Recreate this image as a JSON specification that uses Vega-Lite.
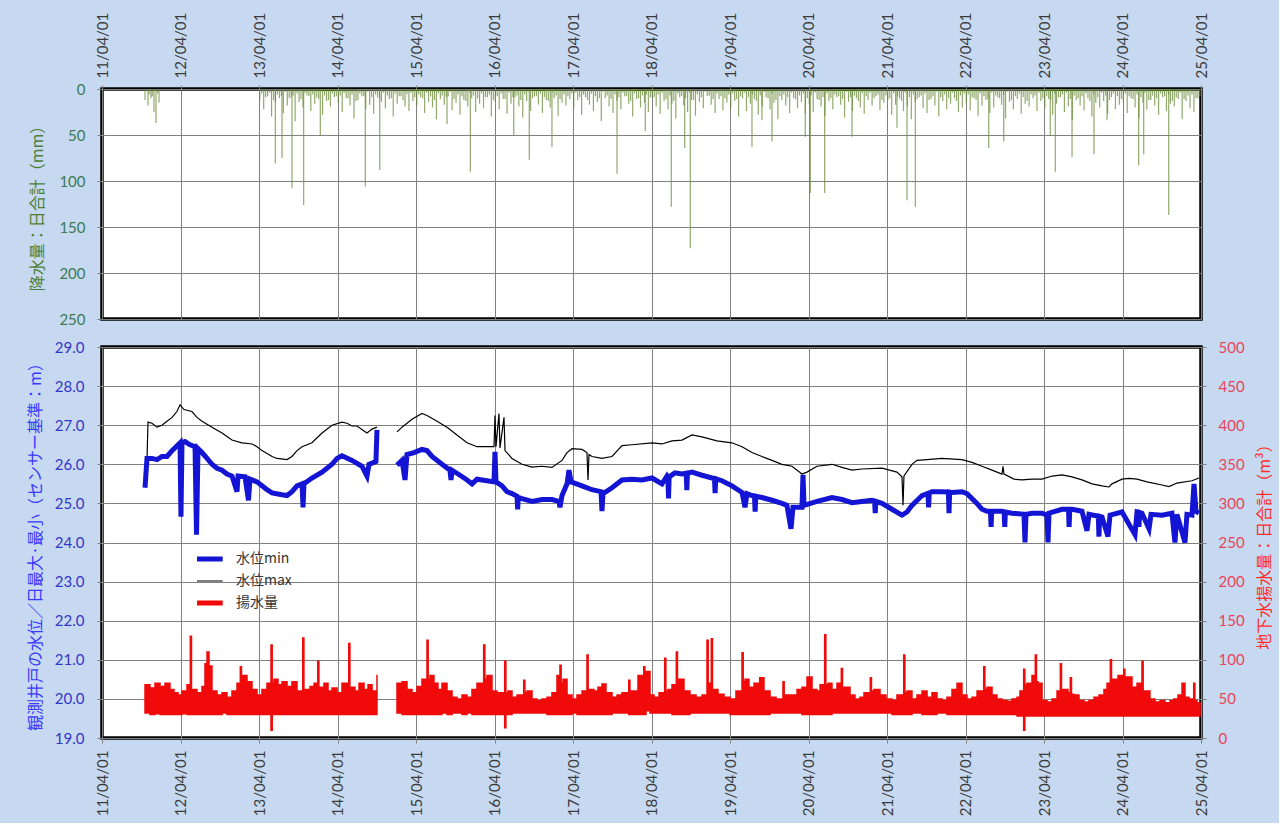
{
"$schema": "https://vega.github.io/schema/vega-lite/v6.json",
"background": "#c6d9f0",
"padding": {"left": 25, "top": 10, "right": 5, "bottom": 5},
"autosize": {"type": "pad"},
"bounds": "flush",
"spacing": 28,
"config": {
 "view": {"stroke": "#000000", "strokeWidth": 3.5, "fill": "#ffffff"},
 "axis": {"gridColor": "#808080", "gridWidth": 1, "gridOpacity": 1, "domain": false, "tickColor": "#808080", "tickSize": 5, "labelFont": "Lato", "labelFontSize": 15, "titleFont": "Noto Sans CJK JP", "titleFontSize": 16, "titleFontWeight": "normal", "labelOverlap": false, "labelFlush": false, "titleBaseline": "middle"},
 "legend": {"labelFont": "Noto Sans CJK JP", "labelFontSize": 14, "labelColor": "#333333"}
},
"datasets": {
 "rain": [
{"t":2011.798,"p":12},{"t":2011.836,"p":18},{"t":2011.874,"p":10},{"t":2011.912,"p":25},{"t":2011.938,"p":37},{"t":2011.976,"p":15},{"t":2011.85,"p":6},{"t":2011.89,"p":8},{"t":2011.96,"p":5},
{"t":2013.26,"p":12},{"t":2013.31,"p":22},{"t":2013.36,"p":8},{"t":2013.41,"p":30},{"t":2013.46,"p":15},{"t":2013.51,"p":10},{"t":2013.56,"p":26},{"t":2013.61,"p":18},{"t":2013.66,"p":9},{"t":2013.71,"p":35},{"t":2013.76,"p":14},{"t":2013.81,"p":20},{"t":2013.86,"p":7},{"t":2013.91,"p":24},{"t":2013.96,"p":16},{"t":2014.01,"p":11},{"t":2014.06,"p":28},{"t":2014.11,"p":13},{"t":2014.16,"p":19},{"t":2014.21,"p":9},
{"t":2014.26,"p":15},{"t":2014.31,"p":25},{"t":2014.36,"p":10},{"t":2014.41,"p":18},{"t":2014.46,"p":32},{"t":2014.51,"p":12},{"t":2014.56,"p":8},{"t":2014.61,"p":22},{"t":2014.66,"p":17},{"t":2014.71,"p":27},{"t":2014.76,"p":9},{"t":2014.81,"p":14},{"t":2014.86,"p":21},{"t":2014.91,"p":11},{"t":2014.96,"p":30},{"t":2015.01,"p":16},{"t":2015.06,"p":8},{"t":2015.11,"p":19},{"t":2015.16,"p":24},{"t":2015.21,"p":13},
{"t":2015.26,"p":18},{"t":2015.31,"p":9},{"t":2015.36,"p":26},{"t":2015.41,"p":14},{"t":2015.46,"p":20},{"t":2015.51,"p":33},{"t":2015.56,"p":11},{"t":2015.61,"p":17},{"t":2015.66,"p":8},{"t":2015.71,"p":23},{"t":2015.76,"p":15},{"t":2015.81,"p":28},{"t":2015.86,"p":12},{"t":2015.91,"p":19},{"t":2015.96,"p":10},{"t":2016.01,"p":25},{"t":2016.06,"p":16},{"t":2016.11,"p":21},{"t":2016.16,"p":9},{"t":2016.21,"p":30},
{"t":2016.26,"p":14},{"t":2016.31,"p":22},{"t":2016.36,"p":11},{"t":2016.41,"p":27},{"t":2016.46,"p":16},{"t":2016.51,"p":9},{"t":2016.56,"p":19},{"t":2016.61,"p":31},{"t":2016.66,"p":13},{"t":2016.71,"p":24},{"t":2016.76,"p":8},{"t":2016.81,"p":17},{"t":2016.86,"p":26},{"t":2016.91,"p":12},{"t":2016.96,"p":20},{"t":2017.01,"p":10},{"t":2017.06,"p":29},{"t":2017.11,"p":15},{"t":2017.16,"p":18},{"t":2017.21,"p":11},
{"t":2017.26,"p":21},{"t":2017.31,"p":12},{"t":2017.36,"p":28},{"t":2017.41,"p":9},{"t":2017.46,"p":17},{"t":2017.51,"p":24},{"t":2017.56,"p":14},{"t":2017.61,"p":35},{"t":2017.66,"p":10},{"t":2017.71,"p":19},{"t":2017.76,"p":26},{"t":2017.81,"p":13},{"t":2017.86,"p":22},{"t":2017.91,"p":8},{"t":2017.96,"p":16},{"t":2018.01,"p":30},{"t":2018.06,"p":11},{"t":2018.11,"p":20},{"t":2018.16,"p":15},{"t":2018.21,"p":25},
{"t":2018.26,"p":10},{"t":2018.31,"p":19},{"t":2018.36,"p":27},{"t":2018.41,"p":13},{"t":2018.46,"p":22},{"t":2018.51,"p":16},{"t":2018.56,"p":32},{"t":2018.61,"p":9},{"t":2018.66,"p":18},{"t":2018.71,"p":25},{"t":2018.76,"p":12},{"t":2018.81,"p":29},{"t":2018.86,"p":14},{"t":2018.91,"p":21},{"t":2018.96,"p":8},{"t":2019.01,"p":17},{"t":2019.06,"p":26},{"t":2019.11,"p":11},{"t":2019.16,"p":23},{"t":2019.21,"p":15},
{"t":2019.26,"p":20},{"t":2019.31,"p":13},{"t":2019.36,"p":30},{"t":2019.41,"p":10},{"t":2019.46,"p":24},{"t":2019.51,"p":16},{"t":2019.56,"p":11},{"t":2019.61,"p":28},{"t":2019.66,"p":19},{"t":2019.71,"p":9},{"t":2019.76,"p":22},{"t":2019.81,"p":15},{"t":2019.86,"p":33},{"t":2019.91,"p":12},{"t":2019.96,"p":18},{"t":2020.01,"p":26},{"t":2020.06,"p":10},{"t":2020.11,"p":21},{"t":2020.16,"p":14},{"t":2020.21,"p":27},
{"t":2020.26,"p":16},{"t":2020.31,"p":25},{"t":2020.36,"p":11},{"t":2020.41,"p":19},{"t":2020.46,"p":29},{"t":2020.51,"p":13},{"t":2020.56,"p":22},{"t":2020.61,"p":9},{"t":2020.66,"p":17},{"t":2020.71,"p":31},{"t":2020.76,"p":14},{"t":2020.81,"p":24},{"t":2020.86,"p":10},{"t":2020.91,"p":20},{"t":2020.96,"p":27},{"t":2021.01,"p":12},{"t":2021.06,"p":18},{"t":2021.11,"p":8},{"t":2021.16,"p":23},{"t":2021.21,"p":15},
{"t":2021.26,"p":12},{"t":2021.31,"p":28},{"t":2021.36,"p":17},{"t":2021.41,"p":10},{"t":2021.46,"p":24},{"t":2021.51,"p":19},{"t":2021.56,"p":33},{"t":2021.61,"p":14},{"t":2021.66,"p":9},{"t":2021.71,"p":21},{"t":2021.76,"p":26},{"t":2021.81,"p":11},{"t":2021.86,"p":18},{"t":2021.91,"p":30},{"t":2021.96,"p":13},{"t":2022.01,"p":22},{"t":2022.06,"p":16},{"t":2022.11,"p":10},{"t":2022.16,"p":25},{"t":2022.21,"p":20},
{"t":2022.26,"p":15},{"t":2022.31,"p":23},{"t":2022.36,"p":10},{"t":2022.41,"p":29},{"t":2022.46,"p":18},{"t":2022.51,"p":12},{"t":2022.56,"p":26},{"t":2022.61,"p":20},{"t":2022.66,"p":9},{"t":2022.71,"p":17},{"t":2022.76,"p":32},{"t":2022.81,"p":14},{"t":2022.86,"p":22},{"t":2022.91,"p":11},{"t":2022.96,"p":27},{"t":2023.01,"p":16},{"t":2023.06,"p":19},{"t":2023.11,"p":10},{"t":2023.16,"p":24},{"t":2023.21,"p":13},
{"t":2023.26,"p":21},{"t":2023.31,"p":11},{"t":2023.36,"p":28},{"t":2023.41,"p":16},{"t":2023.46,"p":9},{"t":2023.51,"p":25},{"t":2023.56,"p":19},{"t":2023.61,"p":34},{"t":2023.66,"p":12},{"t":2023.71,"p":18},{"t":2023.76,"p":23},{"t":2023.81,"p":10},{"t":2023.86,"p":30},{"t":2023.91,"p":15},{"t":2023.96,"p":20},{"t":2024.01,"p":13},{"t":2024.06,"p":27},{"t":2024.11,"p":9},{"t":2024.16,"p":22},{"t":2024.21,"p":17},
{"t":2024.26,"p":14},{"t":2024.31,"p":26},{"t":2024.36,"p":10},{"t":2024.41,"p":20},{"t":2024.46,"p":31},{"t":2024.51,"p":15},{"t":2024.56,"p":22},{"t":2024.61,"p":12},{"t":2024.66,"p":18},{"t":2024.71,"p":28},{"t":2024.76,"p":9},{"t":2024.81,"p":24},{"t":2024.86,"p":16},{"t":2024.91,"p":19},{"t":2024.96,"p":11},{"t":2025.01,"p":33},{"t":2025.06,"p":13},{"t":2025.11,"p":21},{"t":2025.16,"p":25},{"t":2025.21,"p":10},
{"t":2013.285,"p":5},{"t":2013.335,"p":9},{"t":2013.385,"p":4},{"t":2013.435,"p":12},{"t":2013.485,"p":6},{"t":2013.535,"p":8},{"t":2013.585,"p":3},{"t":2013.635,"p":10},{"t":2013.685,"p":7},{"t":2013.735,"p":5},{"t":2013.785,"p":11},{"t":2013.835,"p":4},{"t":2013.885,"p":8},{"t":2013.935,"p":6},{"t":2013.985,"p":9},{"t":2014.035,"p":3},{"t":2014.085,"p":7},{"t":2014.135,"p":12},{"t":2014.185,"p":5},{"t":2014.235,"p":8},
{"t":2014.285,"p":7},{"t":2014.335,"p":4},{"t":2014.385,"p":10},{"t":2014.435,"p":6},{"t":2014.485,"p":13},{"t":2014.535,"p":5},{"t":2014.585,"p":8},{"t":2014.635,"p":3},{"t":2014.685,"p":9},{"t":2014.735,"p":6},{"t":2014.785,"p":11},{"t":2014.835,"p":4},{"t":2014.885,"p":7},{"t":2014.935,"p":10},{"t":2014.985,"p":5},{"t":2015.035,"p":8},{"t":2015.085,"p":12},{"t":2015.135,"p":6},{"t":2015.185,"p":4},{"t":2015.235,"p":9},
{"t":2015.285,"p":6},{"t":2015.335,"p":10},{"t":2015.385,"p":4},{"t":2015.435,"p":8},{"t":2015.485,"p":12},{"t":2015.535,"p":5},{"t":2015.585,"p":7},{"t":2015.635,"p":9},{"t":2015.685,"p":3},{"t":2015.735,"p":11},{"t":2015.785,"p":6},{"t":2015.835,"p":8},{"t":2015.885,"p":13},{"t":2015.935,"p":4},{"t":2015.985,"p":7},{"t":2016.035,"p":10},{"t":2016.085,"p":5},{"t":2016.135,"p":9},{"t":2016.185,"p":6},{"t":2016.235,"p":12},
{"t":2016.285,"p":8},{"t":2016.335,"p":5},{"t":2016.385,"p":11},{"t":2016.435,"p":4},{"t":2016.485,"p":9},{"t":2016.535,"p":7},{"t":2016.585,"p":12},{"t":2016.635,"p":6},{"t":2016.685,"p":3},{"t":2016.735,"p":10},{"t":2016.785,"p":8},{"t":2016.835,"p":5},{"t":2016.885,"p":9},{"t":2016.935,"p":13},{"t":2016.985,"p":4},{"t":2017.035,"p":7},{"t":2017.085,"p":11},{"t":2017.135,"p":6},{"t":2017.185,"p":8},{"t":2017.235,"p":5},
{"t":2017.285,"p":4},{"t":2017.335,"p":9},{"t":2017.385,"p":6},{"t":2017.435,"p":12},{"t":2017.485,"p":5},{"t":2017.535,"p":8},{"t":2017.585,"p":10},{"t":2017.635,"p":3},{"t":2017.685,"p":7},{"t":2017.735,"p":11},{"t":2017.785,"p":6},{"t":2017.835,"p":9},{"t":2017.885,"p":4},{"t":2017.935,"p":8},{"t":2017.985,"p":13},{"t":2018.035,"p":5},{"t":2018.085,"p":10},{"t":2018.135,"p":7},{"t":2018.185,"p":6},{"t":2018.235,"p":9},
{"t":2018.285,"p":9},{"t":2018.335,"p":6},{"t":2018.385,"p":4},{"t":2018.435,"p":11},{"t":2018.485,"p":7},{"t":2018.535,"p":13},{"t":2018.585,"p":5},{"t":2018.635,"p":8},{"t":2018.685,"p":10},{"t":2018.735,"p":4},{"t":2018.785,"p":12},{"t":2018.835,"p":6},{"t":2018.885,"p":9},{"t":2018.935,"p":3},{"t":2018.985,"p":7},{"t":2019.035,"p":11},{"t":2019.085,"p":5},{"t":2019.135,"p":8},{"t":2019.185,"p":10},{"t":2019.235,"p":6},
{"t":2019.285,"p":5},{"t":2019.335,"p":11},{"t":2019.385,"p":8},{"t":2019.435,"p":4},{"t":2019.485,"p":9},{"t":2019.535,"p":6},{"t":2019.585,"p":13},{"t":2019.635,"p":7},{"t":2019.685,"p":3},{"t":2019.735,"p":10},{"t":2019.785,"p":5},{"t":2019.835,"p":12},{"t":2019.885,"p":8},{"t":2019.935,"p":6},{"t":2019.985,"p":9},{"t":2020.035,"p":4},{"t":2020.085,"p":11},{"t":2020.135,"p":7},{"t":2020.185,"p":5},{"t":2020.235,"p":10},
{"t":2020.285,"p":7},{"t":2020.335,"p":4},{"t":2020.385,"p":12},{"t":2020.435,"p":9},{"t":2020.485,"p":5},{"t":2020.535,"p":10},{"t":2020.585,"p":6},{"t":2020.635,"p":8},{"t":2020.685,"p":11},{"t":2020.735,"p":3},{"t":2020.785,"p":9},{"t":2020.835,"p":7},{"t":2020.885,"p":13},{"t":2020.935,"p":5},{"t":2020.985,"p":8},{"t":2021.035,"p":4},{"t":2021.085,"p":10},{"t":2021.135,"p":6},{"t":2021.185,"p":12},{"t":2021.235,"p":7},
{"t":2021.285,"p":10},{"t":2021.335,"p":5},{"t":2021.385,"p":8},{"t":2021.435,"p":13},{"t":2021.485,"p":4},{"t":2021.535,"p":9},{"t":2021.585,"p":6},{"t":2021.635,"p":11},{"t":2021.685,"p":7},{"t":2021.735,"p":5},{"t":2021.785,"p":12},{"t":2021.835,"p":8},{"t":2021.885,"p":3},{"t":2021.935,"p":9},{"t":2021.985,"p":6},{"t":2022.035,"p":10},{"t":2022.085,"p":4},{"t":2022.135,"p":13},{"t":2022.185,"p":7},{"t":2022.235,"p":5},
{"t":2022.285,"p":6},{"t":2022.335,"p":9},{"t":2022.385,"p":12},{"t":2022.435,"p":5},{"t":2022.485,"p":8},{"t":2022.535,"p":11},{"t":2022.585,"p":4},{"t":2022.635,"p":7},{"t":2022.685,"p":10},{"t":2022.735,"p":6},{"t":2022.785,"p":3},{"t":2022.835,"p":12},{"t":2022.885,"p":8},{"t":2022.935,"p":5},{"t":2022.985,"p":9},{"t":2023.035,"p":13},{"t":2023.085,"p":6},{"t":2023.135,"p":7},{"t":2023.185,"p":4},{"t":2023.235,"p":10},
{"t":2023.285,"p":8},{"t":2023.335,"p":12},{"t":2023.385,"p":5},{"t":2023.435,"p":9},{"t":2023.485,"p":6},{"t":2023.535,"p":4},{"t":2023.585,"p":11},{"t":2023.635,"p":7},{"t":2023.685,"p":10},{"t":2023.735,"p":8},{"t":2023.785,"p":5},{"t":2023.835,"p":13},{"t":2023.885,"p":6},{"t":2023.935,"p":9},{"t":2023.985,"p":4},{"t":2024.035,"p":7},{"t":2024.085,"p":12},{"t":2024.135,"p":5},{"t":2024.185,"p":8},{"t":2024.235,"p":11},
{"t":2024.285,"p":5},{"t":2024.335,"p":8},{"t":2024.385,"p":11},{"t":2024.435,"p":6},{"t":2024.485,"p":9},{"t":2024.535,"p":4},{"t":2024.585,"p":12},{"t":2024.635,"p":7},{"t":2024.685,"p":10},{"t":2024.735,"p":5},{"t":2024.785,"p":8},{"t":2024.835,"p":6},{"t":2024.885,"p":13},{"t":2024.935,"p":9},{"t":2024.985,"p":4},{"t":2025.035,"p":11},{"t":2025.085,"p":7},{"t":2025.135,"p":6},{"t":2025.185,"p":10},{"t":2025.235,"p":8},
{"t":2013.458,"p":81},{"t":2013.543,"p":75},{"t":2013.670,"p":108},{"t":2013.819,"p":126},{"t":2014.031,"p":50},{"t":2014.604,"p":106},{"t":2014.788,"p":88},{"t":2015.645,"p":38},{"t":2015.942,"p":90},{"t":2016.495,"p":50},{"t":2016.693,"p":77},{"t":2016.982,"p":63},{"t":2017.811,"p":92},{"t":2018.171,"p":46},{"t":2018.502,"p":128},{"t":2018.673,"p":64},{"t":2018.744,"p":173},{"t":2019.530,"p":63},{"t":2019.657,"p":34},{"t":2019.785,"p":57},{"t":2020.209,"p":52},{"t":2020.273,"p":113},{"t":2020.456,"p":113},{"t":2020.804,"p":52},{"t":2021.377,"p":42},{"t":2021.505,"p":121},{"t":2021.611,"p":128},{"t":2022.546,"p":64},{"t":2022.737,"p":57},{"t":2023.330,"p":50},{"t":2023.394,"p":90},{"t":2023.607,"p":74},{"t":2023.887,"p":71},{"t":2024.053,"p":34},{"t":2024.456,"p":83},{"t":2024.520,"p":71},{"t":2024.839,"p":137}
 ],
 "mn": [
{"t":2011.798,"水位min":25.4},{"t":2011.823,"水位min":26.15},{"t":2011.887,"水位min":26.15},{"t":2011.951,"水位min":26.12},{"t":2012.014,"水位min":26.2},{"t":2012.078,"水位min":26.2},{"t":2012.142,"水位min":26.35},{"t":2012.193,"水位min":26.45},{"t":2012.244,"水位min":26.55},{"t":2012.256,"水位min":24.66},{"t":2012.269,"水位min":26.55},{"t":2012.307,"水位min":26.58},{"t":2012.371,"水位min":26.5},{"t":2012.435,"水位min":26.45},{"t":2012.454,"水位min":24.2},{"t":2012.473,"水位min":26.4},{"t":2012.524,"水位min":26.3},{"t":2012.588,"水位min":26.15},{"t":2012.651,"水位min":26.0},{"t":2012.715,"水位min":25.9},{"t":2012.779,"水位min":25.85},{"t":2012.842,"水位min":25.75},{"t":2012.906,"水位min":25.7},{"t":2012.970,"水位min":25.3},{"t":2012.983,"水位min":25.7},{"t":2013.072,"水位min":25.68},{"t":2013.116,"水位min":25.08},{"t":2013.135,"水位min":25.62},{"t":2013.225,"水位min":25.55},{"t":2013.288,"水位min":25.45},{"t":2013.352,"水位min":25.35},{"t":2013.416,"水位min":25.27},{"t":2013.543,"水位min":25.22},{"t":2013.607,"水位min":25.2},{"t":2013.670,"水位min":25.3},{"t":2013.734,"水位min":25.45},{"t":2013.798,"水位min":25.5},{"t":2013.811,"水位min":24.9},{"t":2013.823,"水位min":25.5},{"t":2013.925,"水位min":25.65},{"t":2014.053,"水位min":25.8},{"t":2014.180,"水位min":26.0},{"t":2014.244,"水位min":26.15},{"t":2014.307,"水位min":26.22},{"t":2014.435,"水位min":26.1},{"t":2014.562,"水位min":25.95},{"t":2014.626,"水位min":25.7},{"t":2014.651,"水位min":26.0},{"t":2014.740,"水位min":26.07},{"t":2014.753,"水位min":26.88},
{"t":2014.85,"水位min":null},
{"t":2015.008,"水位min":25.98},{"t":2015.072,"水位min":26.1},{"t":2015.110,"水位min":25.6},{"t":2015.135,"水位min":26.25},{"t":2015.225,"水位min":26.3},{"t":2015.326,"水位min":26.38},{"t":2015.390,"水位min":26.35},{"t":2015.454,"水位min":26.2},{"t":2015.581,"水位min":26.0},{"t":2015.683,"水位min":25.85},{"t":2015.696,"水位min":25.6},{"t":2015.709,"水位min":25.85},{"t":2015.811,"水位min":25.72},{"t":2015.900,"水位min":25.6},{"t":2015.964,"水位min":25.5},{"t":2016.027,"水位min":25.62},{"t":2016.154,"水位min":25.58},{"t":2016.244,"水位min":25.55},{"t":2016.256,"水位min":26.32},{"t":2016.269,"水位min":25.55},{"t":2016.346,"水位min":25.45},{"t":2016.409,"水位min":25.3},{"t":2016.473,"水位min":25.25},{"t":2016.600,"水位min":25.12},{"t":2016.728,"水位min":25.05},{"t":2016.855,"水位min":25.1},{"t":2016.982,"水位min":25.1},{"t":2017.072,"水位min":25.05},{"t":2017.084,"水位min":24.9},{"t":2017.110,"水位min":25.2},{"t":2017.174,"水位min":25.5},{"t":2017.199,"水位min":25.85},{"t":2017.225,"水位min":25.55},{"t":2017.365,"水位min":25.45},{"t":2017.492,"水位min":25.35},{"t":2017.607,"水位min":25.3},{"t":2017.619,"水位min":24.8},{"t":2017.632,"水位min":25.25},{"t":2017.747,"水位min":25.4},{"t":2017.874,"水位min":25.6},{"t":2018.001,"水位min":25.62},{"t":2018.129,"水位min":25.6},{"t":2018.256,"水位min":25.65},{"t":2018.384,"水位min":25.5},{"t":2018.447,"水位min":25.7},{"t":2018.549,"水位min":25.78},{"t":2018.638,"水位min":25.75},{"t":2018.766,"水位min":25.8},{"t":2018.893,"水位min":25.72},{"t":2019.021,"水位min":25.65},{"t":2019.148,"水位min":25.58},{"t":2019.275,"水位min":25.45},{"t":2019.403,"水位min":25.28},{"t":2019.441,"水位min":24.9},{"t":2019.466,"水位min":25.25},{"t":2019.530,"水位min":25.2},{"t":2019.657,"水位min":25.15},{"t":2019.785,"水位min":25.08},{"t":2019.912,"水位min":25.0},{"t":2019.975,"水位min":24.95},{"t":2020.027,"水位min":24.35},{"t":2020.052,"水位min":24.9},{"t":2020.167,"水位min":24.9},{"t":2020.180,"水位min":25.73},{"t":2020.193,"水位min":24.95},{"t":2020.358,"水位min":25.05},{"t":2020.549,"水位min":25.15},{"t":2020.677,"水位min":25.1},{"t":2020.804,"水位min":25.02},{"t":2020.931,"水位min":25.05},{"t":2021.059,"水位min":25.08},{"t":2021.186,"水位min":25.0},{"t":2021.313,"水位min":24.85},{"t":2021.441,"水位min":24.7},{"t":2021.505,"水位min":24.78},{"t":2021.568,"水位min":24.95},{"t":2021.696,"水位min":25.2},{"t":2021.823,"水位min":25.3},{"t":2021.950,"水位min":25.3},{"t":2022.078,"水位min":25.28},{"t":2022.205,"水位min":25.3},{"t":2022.269,"水位min":25.25},{"t":2022.396,"水位min":25.0},{"t":2022.460,"水位min":24.85},{"t":2022.524,"水位min":24.8},{"t":2022.587,"水位min":24.8},{"t":2022.715,"水位min":24.8},{"t":2022.842,"水位min":24.75},{"t":2022.995,"水位min":24.72},{"t":2023.008,"水位min":24.0},{"t":2023.021,"水位min":24.72},{"t":2023.097,"水位min":24.75},{"t":2023.225,"水位min":24.75},{"t":2023.288,"水位min":24.7},{"t":2023.301,"水位min":24.0},{"t":2023.314,"水位min":24.75},{"t":2023.479,"水位min":24.85},{"t":2023.607,"水位min":24.85},{"t":2023.734,"水位min":24.8},{"t":2023.798,"水位min":24.3},{"t":2023.823,"水位min":24.72},{"t":2023.989,"水位min":24.65},{"t":2024.065,"水位min":24.15},{"t":2024.091,"水位min":24.7},{"t":2024.244,"水位min":24.78},{"t":2024.409,"水位min":24.2},{"t":2024.435,"水位min":24.78},{"t":2024.498,"水位min":24.75},{"t":2024.588,"水位min":24.35},{"t":2024.613,"水位min":24.72},{"t":2024.753,"水位min":24.7},{"t":2024.880,"水位min":24.75},{"t":2024.918,"水位min":24.0},{"t":2024.943,"水位min":24.72},{"t":2025.046,"水位min":24.0},{"t":2025.071,"水位min":24.72},{"t":2025.135,"水位min":24.7},{"t":2025.161,"水位min":25.5},{"t":2025.186,"水位min":24.8},{"t":2025.224,"水位min":24.75},
{"t":2016.537,"水位min":25.18},{"t":2016.545,"水位min":24.85},{"t":2016.553,"水位min":25.16},
{"t":2018.459,"水位min":25.66},{"t":2018.467,"水位min":25.13},{"t":2018.475,"水位min":25.68},
{"t":2018.692,"水位min":25.77},{"t":2018.700,"水位min":25.34},{"t":2018.708,"水位min":25.77},
{"t":2019.052,"水位min":25.64},{"t":2019.060,"水位min":25.26},{"t":2019.068,"水位min":25.63},
{"t":2019.562,"水位min":25.19},{"t":2019.570,"水位min":24.79},{"t":2019.578,"水位min":25.18},
{"t":2021.092,"水位min":25.06},{"t":2021.100,"水位min":24.75},{"t":2021.108,"水位min":25.05},
{"t":2021.772,"水位min":25.26},{"t":2021.780,"水位min":24.9},{"t":2021.788,"水位min":25.27},
{"t":2022.032,"水位min":25.29},{"t":2022.040,"水位min":24.75},{"t":2022.048,"水位min":25.29},
{"t":2022.568,"水位min":24.8},{"t":2022.576,"水位min":24.4},{"t":2022.584,"水位min":24.8},
{"t":2022.742,"水位min":24.78},{"t":2022.750,"水位min":24.4},{"t":2022.758,"水位min":24.78},
{"t":2023.562,"水位min":24.85},{"t":2023.570,"水位min":24.4},{"t":2023.578,"水位min":24.85},
{"t":2023.942,"水位min":24.67},{"t":2023.950,"水位min":24.15},{"t":2023.958,"水位min":24.67},
{"t":2024.452,"水位min":24.77},{"t":2024.460,"水位min":24.4},{"t":2024.468,"水位min":24.77}
 ],
 "mx": [
{"t":2011.823,"水位max":26.1},{"t":2011.836,"水位max":27.08},{"t":2011.887,"水位max":27.05},{"t":2011.951,"水位max":26.95},{"t":2012.014,"水位max":27.0},{"t":2012.078,"水位max":27.1},{"t":2012.142,"水位max":27.2},{"t":2012.205,"水位max":27.35},{"t":2012.244,"水位max":27.52},{"t":2012.295,"水位max":27.4},{"t":2012.396,"水位max":27.35},{"t":2012.460,"水位max":27.2},{"t":2012.524,"水位max":27.1},{"t":2012.651,"水位max":26.95},{"t":2012.779,"水位max":26.8},{"t":2012.906,"水位max":26.62},{"t":2013.033,"水位max":26.55},{"t":2013.161,"水位max":26.52},{"t":2013.225,"水位max":26.45},{"t":2013.288,"水位max":26.35},{"t":2013.416,"水位max":26.2},{"t":2013.479,"水位max":26.15},{"t":2013.607,"水位max":26.12},{"t":2013.670,"水位max":26.2},{"t":2013.734,"水位max":26.35},{"t":2013.798,"水位max":26.45},{"t":2013.925,"水位max":26.55},{"t":2014.053,"水位max":26.8},{"t":2014.180,"水位max":27.0},{"t":2014.307,"水位max":27.08},{"t":2014.371,"水位max":27.05},{"t":2014.435,"水位max":26.98},{"t":2014.498,"水位max":26.98},{"t":2014.588,"水位max":26.85},{"t":2014.626,"水位max":26.8},{"t":2014.689,"水位max":26.9},{"t":2014.753,"水位max":26.95},
{"t":2014.85,"水位max":null},
{"t":2015.008,"水位max":26.83},{"t":2015.072,"水位max":26.95},{"t":2015.199,"水位max":27.15},{"t":2015.326,"水位max":27.3},{"t":2015.390,"水位max":27.25},{"t":2015.518,"水位max":27.1},{"t":2015.645,"水位max":26.95},{"t":2015.772,"水位max":26.75},{"t":2015.900,"水位max":26.55},{"t":2016.027,"水位max":26.45},{"t":2016.154,"水位max":26.45},{"t":2016.244,"水位max":26.45},{"t":2016.256,"水位max":27.25},{"t":2016.269,"水位max":26.45},{"t":2016.307,"水位max":27.3},{"t":2016.320,"水位max":26.42},{"t":2016.371,"水位max":27.2},{"t":2016.384,"水位max":26.35},{"t":2016.473,"水位max":26.15},{"t":2016.600,"水位max":26.0},{"t":2016.728,"水位max":25.93},{"t":2016.855,"水位max":25.95},{"t":2016.982,"水位max":25.92},{"t":2017.110,"水位max":26.1},{"t":2017.174,"水位max":26.3},{"t":2017.237,"水位max":26.4},{"t":2017.365,"水位max":26.38},{"t":2017.428,"水位max":26.3},{"t":2017.441,"水位max":25.6},{"t":2017.454,"水位max":26.25},{"t":2017.492,"水位max":26.2},{"t":2017.619,"水位max":26.15},{"t":2017.747,"水位max":26.2},{"t":2017.874,"水位max":26.48},{"t":2018.001,"水位max":26.5},{"t":2018.256,"水位max":26.55},{"t":2018.384,"水位max":26.52},{"t":2018.511,"水位max":26.6},{"t":2018.638,"水位max":26.62},{"t":2018.766,"水位max":26.75},{"t":2018.893,"水位max":26.7},{"t":2019.084,"水位max":26.6},{"t":2019.275,"水位max":26.55},{"t":2019.403,"水位max":26.45},{"t":2019.530,"水位max":26.3},{"t":2019.657,"水位max":26.2},{"t":2019.785,"水位max":26.1},{"t":2019.912,"水位max":26.0},{"t":2020.040,"水位max":25.95},{"t":2020.167,"水位max":25.75},{"t":2020.231,"水位max":25.8},{"t":2020.358,"水位max":25.95},{"t":2020.549,"水位max":26.0},{"t":2020.677,"水位max":25.92},{"t":2020.804,"水位max":25.85},{"t":2020.931,"水位max":25.88},{"t":2021.186,"水位max":25.9},{"t":2021.377,"水位max":25.8},{"t":2021.441,"水位max":25.68},{"t":2021.454,"水位max":24.95},{"t":2021.466,"水位max":25.7},{"t":2021.568,"水位max":26.0},{"t":2021.632,"水位max":26.1},{"t":2021.759,"水位max":26.12},{"t":2021.950,"水位max":26.15},{"t":2022.205,"水位max":26.12},{"t":2022.333,"水位max":26.05},{"t":2022.460,"水位max":25.95},{"t":2022.587,"水位max":25.85},{"t":2022.715,"水位max":25.75},{"t":2022.728,"水位max":25.95},{"t":2022.740,"水位max":25.75},{"t":2022.868,"水位max":25.62},{"t":2022.970,"水位max":25.6},{"t":2023.097,"水位max":25.62},{"t":2023.225,"水位max":25.62},{"t":2023.352,"水位max":25.7},{"t":2023.479,"水位max":25.73},{"t":2023.607,"水位max":25.68},{"t":2023.734,"水位max":25.6},{"t":2023.862,"水位max":25.5},{"t":2023.989,"水位max":25.45},{"t":2024.078,"水位max":25.42},{"t":2024.116,"水位max":25.5},{"t":2024.244,"水位max":25.62},{"t":2024.333,"水位max":25.64},{"t":2024.435,"水位max":25.62},{"t":2024.562,"水位max":25.55},{"t":2024.753,"水位max":25.47},{"t":2024.842,"水位max":25.43},{"t":2024.944,"水位max":25.52},{"t":2025.135,"水位max":25.58},{"t":2025.224,"水位max":25.65}
 ],
 "pm": [
{"t":2011.798,"揚水量":68,"lo":32},{"t":2011.861,"揚水量":64,"lo":30},{"t":2011.925,"揚水量":70,"lo":31},{"t":2011.989,"揚水量":66,"lo":30},{"t":2012.053,"揚水量":70,"lo":30},{"t":2012.116,"揚水量":62,"lo":30},{"t":2012.167,"揚水量":58,"lo":30},{"t":2012.218,"揚水量":55,"lo":30},{"t":2012.269,"揚水量":60,"lo":31},{"t":2012.333,"揚水量":68,"lo":30},{"t":2012.375,"揚水量":130,"lo":30},{"t":2012.409,"揚水量":62,"lo":30},{"t":2012.460,"揚水量":58,"lo":30},{"t":2012.524,"揚水量":66,"lo":30},{"t":2012.562,"揚水量":95,"lo":30},{"t":2012.588,"揚水量":110,"lo":30},{"t":2012.613,"揚水量":92,"lo":30},{"t":2012.651,"揚水量":60,"lo":30},{"t":2012.715,"揚水量":55,"lo":30},{"t":2012.779,"揚水量":58,"lo":32},{"t":2012.842,"揚水量":52,"lo":30},{"t":2012.906,"揚水量":60,"lo":30},{"t":2012.970,"揚水量":70,"lo":30},{"t":2013.012,"揚水量":91,"lo":31},{"t":2013.046,"揚水量":80,"lo":30},{"t":2013.097,"揚水量":72,"lo":30},{"t":2013.161,"揚水量":62,"lo":30},{"t":2013.225,"揚水量":55,"lo":30},{"t":2013.288,"揚水量":62,"lo":30},{"t":2013.352,"揚水量":70,"lo":30},{"t":2013.403,"揚水量":119,"lo":10},{"t":2013.441,"揚水量":75,"lo":30},{"t":2013.492,"揚水量":68,"lo":30},{"t":2013.543,"揚水量":72,"lo":30},{"t":2013.607,"揚水量":66,"lo":30},{"t":2013.670,"揚水量":72,"lo":30},{"t":2013.734,"揚水量":60,"lo":30},{"t":2013.807,"揚水量":128,"lo":30},{"t":2013.836,"揚水量":62,"lo":30},{"t":2013.900,"揚水量":66,"lo":30},{"t":2013.951,"揚水量":70,"lo":30},{"t":2013.998,"揚水量":98,"lo":30},{"t":2014.027,"揚水量":65,"lo":30},{"t":2014.078,"揚水量":70,"lo":30},{"t":2014.129,"揚水量":60,"lo":30},{"t":2014.180,"揚水量":64,"lo":30},{"t":2014.244,"揚水量":58,"lo":30},{"t":2014.307,"揚水量":70,"lo":30},{"t":2014.393,"揚水量":121,"lo":30},{"t":2014.422,"揚水量":65,"lo":30},{"t":2014.473,"揚水量":60,"lo":30},{"t":2014.524,"揚水量":70,"lo":30},{"t":2014.588,"揚水量":62,"lo":30},{"t":2014.639,"揚水量":68,"lo":30},{"t":2014.690,"揚水量":60,"lo":30},{"t":2014.753,"揚水量":81,"lo":30},
{"t":2014.85,"揚水量":null,"lo":null},
{"t":2015.008,"揚水量":70,"lo":32},{"t":2015.072,"揚水量":72,"lo":30},{"t":2015.135,"揚水量":62,"lo":30},{"t":2015.199,"揚水量":58,"lo":30},{"t":2015.263,"揚水量":66,"lo":30},{"t":2015.326,"揚水量":75,"lo":30},{"t":2015.390,"揚水量":125,"lo":30},{"t":2015.428,"揚水量":80,"lo":30},{"t":2015.479,"揚水量":70,"lo":30},{"t":2015.530,"揚水量":62,"lo":30},{"t":2015.581,"揚水量":70,"lo":32},{"t":2015.645,"揚水量":60,"lo":30},{"t":2015.709,"揚水量":52,"lo":32},{"t":2015.772,"揚水量":50,"lo":32},{"t":2015.836,"揚水量":55,"lo":30},{"t":2015.900,"揚水量":52,"lo":32},{"t":2015.963,"揚水量":62,"lo":30},{"t":2016.027,"揚水量":70,"lo":30},{"t":2016.112,"揚水量":119,"lo":30},{"t":2016.154,"揚水量":80,"lo":30},{"t":2016.218,"揚水量":60,"lo":30},{"t":2016.282,"揚水量":58,"lo":30},{"t":2016.380,"揚水量":98,"lo":13},{"t":2016.422,"揚水量":60,"lo":30},{"t":2016.473,"揚水量":52,"lo":32},{"t":2016.537,"揚水量":55,"lo":32},{"t":2016.622,"揚水量":74,"lo":32},{"t":2016.664,"揚水量":60,"lo":32},{"t":2016.728,"揚水量":50,"lo":32},{"t":2016.791,"揚水量":48,"lo":32},{"t":2016.855,"揚水量":50,"lo":32},{"t":2016.919,"揚水量":52,"lo":30},{"t":2016.982,"揚水量":58,"lo":30},{"t":2017.046,"揚水量":80,"lo":30},{"t":2017.084,"揚水量":93,"lo":30},{"t":2017.123,"揚水量":75,"lo":30},{"t":2017.174,"揚水量":55,"lo":30},{"t":2017.237,"揚水量":50,"lo":32},{"t":2017.301,"揚水量":55,"lo":30},{"t":2017.365,"揚水量":60,"lo":30},{"t":2017.428,"揚水量":106,"lo":30},{"t":2017.467,"揚水量":62,"lo":30},{"t":2017.518,"揚水量":60,"lo":30},{"t":2017.568,"揚水量":65,"lo":30},{"t":2017.619,"揚水量":69,"lo":30},{"t":2017.670,"揚水量":58,"lo":30},{"t":2017.747,"揚水量":52,"lo":32},{"t":2017.811,"揚水量":55,"lo":32},{"t":2017.874,"揚水量":58,"lo":32},{"t":2017.960,"揚水量":74,"lo":30},{"t":2018.014,"揚水量":60,"lo":30},{"t":2018.078,"揚水量":80,"lo":30},{"t":2018.151,"揚水量":91,"lo":30},{"t":2018.180,"揚水量":85,"lo":35},{"t":2018.231,"揚水量":55,"lo":32},{"t":2018.282,"揚水量":52,"lo":32},{"t":2018.346,"揚水量":58,"lo":32},{"t":2018.418,"揚水量":102,"lo":32},{"t":2018.460,"揚水量":62,"lo":32},{"t":2018.511,"揚水量":68,"lo":30},{"t":2018.566,"揚水量":110,"lo":30},{"t":2018.600,"揚水量":75,"lo":30},{"t":2018.664,"揚水量":60,"lo":30},{"t":2018.740,"揚水量":55,"lo":32},{"t":2018.817,"揚水量":52,"lo":32},{"t":2018.893,"揚水量":55,"lo":32},{"t":2018.957,"揚水量":125,"lo":32},{"t":2018.982,"揚水量":70,"lo":32},{"t":2019.012,"揚水量":127,"lo":32},{"t":2019.046,"揚水量":62,"lo":32},{"t":2019.097,"揚水量":56,"lo":32},{"t":2019.174,"揚水量":52,"lo":32},{"t":2019.250,"揚水量":50,"lo":30},{"t":2019.326,"揚水量":60,"lo":30},{"t":2019.403,"揚水量":109,"lo":30},{"t":2019.441,"揚水量":75,"lo":30},{"t":2019.492,"揚水量":65,"lo":30},{"t":2019.556,"揚水量":70,"lo":30},{"t":2019.628,"揚水量":77,"lo":30},{"t":2019.683,"揚水量":60,"lo":30},{"t":2019.760,"揚水量":52,"lo":32},{"t":2019.836,"揚水量":50,"lo":32},{"t":2019.925,"揚水量":72,"lo":32},{"t":2019.963,"揚水量":55,"lo":32},{"t":2020.040,"揚水量":55,"lo":32},{"t":2020.104,"揚水量":62,"lo":32},{"t":2020.167,"揚水量":65,"lo":30},{"t":2020.231,"揚水量":78,"lo":30},{"t":2020.295,"揚水量":62,"lo":30},{"t":2020.358,"揚水量":60,"lo":30},{"t":2020.397,"揚水量":68,"lo":30},{"t":2020.456,"揚水量":132,"lo":30},{"t":2020.498,"揚水量":70,"lo":30},{"t":2020.549,"揚水量":62,"lo":32},{"t":2020.613,"揚水量":70,"lo":32},{"t":2020.668,"揚水量":89,"lo":32},{"t":2020.715,"揚水量":65,"lo":32},{"t":2020.779,"揚水量":55,"lo":32},{"t":2020.842,"揚水量":50,"lo":32},{"t":2020.906,"揚水量":52,"lo":32},{"t":2020.957,"揚水量":58,"lo":32},{"t":2021.037,"揚水量":77,"lo":32},{"t":2021.084,"揚水量":62,"lo":32},{"t":2021.161,"揚水量":55,"lo":32},{"t":2021.237,"揚水量":50,"lo":32},{"t":2021.314,"揚水量":48,"lo":30},{"t":2021.377,"揚水量":55,"lo":30},{"t":2021.463,"揚水量":106,"lo":30},{"t":2021.505,"揚水量":60,"lo":30},{"t":2021.568,"揚水量":50,"lo":32},{"t":2021.632,"揚水量":55,"lo":32},{"t":2021.696,"揚水量":60,"lo":30},{"t":2021.760,"揚水量":52,"lo":30},{"t":2021.823,"揚水量":58,"lo":30},{"t":2021.887,"揚水量":50,"lo":32},{"t":2021.951,"揚水量":48,"lo":32},{"t":2022.014,"揚水量":52,"lo":30},{"t":2022.078,"揚水量":62,"lo":30},{"t":2022.142,"揚水量":70,"lo":30},{"t":2022.205,"揚水量":55,"lo":30},{"t":2022.269,"揚水量":50,"lo":30},{"t":2022.333,"揚水量":52,"lo":30},{"t":2022.397,"揚水量":60,"lo":30},{"t":2022.482,"揚水量":91,"lo":30},{"t":2022.524,"揚水量":65,"lo":30},{"t":2022.588,"揚水量":55,"lo":30},{"t":2022.651,"揚水量":50,"lo":30},{"t":2022.715,"揚水量":48,"lo":30},{"t":2022.779,"揚水量":47,"lo":30},{"t":2022.842,"揚水量":50,"lo":30},{"t":2022.906,"揚水量":52,"lo":28},{"t":2022.944,"揚水量":60,"lo":28},{"t":2022.991,"揚水量":88,"lo":10},{"t":2023.033,"揚水量":70,"lo":28},{"t":2023.097,"揚水量":80,"lo":28},{"t":2023.139,"揚水量":106,"lo":28},{"t":2023.174,"揚水量":70,"lo":28},{"t":2023.225,"揚水量":48,"lo":28},{"t":2023.288,"揚水量":46,"lo":28},{"t":2023.352,"揚水量":50,"lo":28},{"t":2023.416,"揚水量":60,"lo":28},{"t":2023.458,"揚水量":95,"lo":28},{"t":2023.505,"揚水量":62,"lo":28},{"t":2023.556,"揚水量":58,"lo":28},{"t":2023.585,"揚水量":77,"lo":28},{"t":2023.632,"揚水量":55,"lo":28},{"t":2023.696,"揚水量":48,"lo":28},{"t":2023.760,"揚水量":46,"lo":28},{"t":2023.823,"揚水量":48,"lo":28},{"t":2023.887,"揚水量":52,"lo":28},{"t":2023.951,"揚水量":55,"lo":28},{"t":2024.014,"揚水量":62,"lo":28},{"t":2024.053,"揚水量":70,"lo":28},{"t":2024.095,"揚水量":100,"lo":28},{"t":2024.142,"揚水量":75,"lo":28},{"t":2024.193,"揚水量":80,"lo":28},{"t":2024.265,"揚水量":88,"lo":28},{"t":2024.307,"揚水量":78,"lo":28},{"t":2024.371,"揚水量":65,"lo":28},{"t":2024.435,"揚水量":70,"lo":28},{"t":2024.498,"揚水量":98,"lo":28},{"t":2024.537,"揚水量":60,"lo":28},{"t":2024.600,"揚水量":50,"lo":28},{"t":2024.664,"揚水量":46,"lo":28},{"t":2024.728,"揚水量":48,"lo":28},{"t":2024.791,"揚水量":45,"lo":28},{"t":2024.855,"揚水量":48,"lo":28},{"t":2024.906,"揚水量":50,"lo":28},{"t":2024.957,"揚水量":55,"lo":28},{"t":2025.008,"揚水量":70,"lo":28},{"t":2025.046,"揚水量":52,"lo":28},{"t":2025.097,"揚水量":50,"lo":28},{"t":2025.157,"揚水量":70,"lo":28},{"t":2025.199,"揚水量":45,"lo":28},{"t":2025.237,"揚水量":42,"lo":30},
{"t":2012.39,"揚水量":62,"lo":30},{"t":2013.027,"揚水量":70,"lo":30},{"t":2013.418,"揚水量":70,"lo":30},{"t":2013.822,"揚水量":62,"lo":30},{"t":2014.013,"揚水量":65,"lo":30},{"t":2014.408,"揚水量":65,"lo":30},{"t":2015.405,"揚水量":75,"lo":30},{"t":2016.127,"揚水量":75,"lo":30},{"t":2016.395,"揚水量":58,"lo":30},{"t":2016.637,"揚水量":58,"lo":32},{"t":2017.099,"揚水量":70,"lo":30},{"t":2017.443,"揚水量":62,"lo":30},{"t":2017.975,"揚水量":60,"lo":30},{"t":2018.166,"揚水量":80,"lo":30},{"t":2018.433,"揚水量":60,"lo":32},{"t":2018.581,"揚水量":72,"lo":30},{"t":2018.972,"揚水量":70,"lo":32},{"t":2019.027,"揚水量":62,"lo":32},{"t":2019.418,"揚水量":72,"lo":30},{"t":2019.94,"揚水量":55,"lo":32},{"t":2020.471,"揚水量":68,"lo":30},{"t":2020.683,"揚水量":65,"lo":32},{"t":2021.052,"揚水量":60,"lo":32},{"t":2021.478,"揚水量":58,"lo":30},{"t":2022.497,"揚水量":62,"lo":30},{"t":2023.006,"揚水量":68,"lo":28},{"t":2023.154,"揚水量":72,"lo":28},{"t":2023.473,"揚水量":62,"lo":28},{"t":2023.60,"揚水量":56,"lo":28},{"t":2024.11,"揚水量":75,"lo":28},{"t":2024.28,"揚水量":78,"lo":28},{"t":2024.513,"揚水量":60,"lo":28},{"t":2025.172,"揚水量":48,"lo":28}
 ]
},
"vconcat": [
 {
  "width": 1099,
  "height": 230,
  "data": {"name": "rain"},
  "mark": {"type": "rule", "color": "#6b8c3a", "strokeWidth": 1.2, "opacity": 0.75},
  "encoding": {
   "x": {"field": "t", "type": "quantitative",
     "scale": {"domain": [2011.25, 2025.25], "nice": false, "zero": false},
     "axis": {"orient": "top", "title": null, "grid": true, "values": [2011.25,2012.25,2013.25,2014.25,2015.25,2016.25,2017.25,2018.25,2019.25,2020.25,2021.25,2022.25,2023.25,2024.25,2025.25],
       "labelExpr": "substring(toString(floor(datum.value)), 2, 4) + '/04/01'", "labelAngle": 270, "labelColor": "#3a3a3a", "tickSize": 4, "labelPadding": 7}},
   "y": {"field": "p", "type": "quantitative",
     "scale": {"domain": [0, 250], "reverse": true, "nice": false},
     "axis": {"values": [0,50,100,150,200,250], "title": "降水量：日合計（mm）", "titleColor": "#4f7f34", "labelColor": "#3d7a55", "titleX": -65, "labelPadding": 12}},
   "y2": {"datum": 0}
  }
 },
 {
  "width": 1099,
  "height": 391,
  "encoding": {
   "x": {"field": "t", "type": "quantitative",
     "scale": {"domain": [2011.25, 2025.25], "nice": false, "zero": false},
     "axis": {"orient": "bottom", "title": null, "grid": true, "values": [2011.25,2012.25,2013.25,2014.25,2015.25,2016.25,2017.25,2018.25,2019.25,2020.25,2021.25,2022.25,2023.25,2024.25,2025.25],
       "labelExpr": "substring(toString(floor(datum.value)), 2, 4) + '/04/01'", "labelAngle": 270, "labelColor": "#3a3a3a", "tickSize": 5, "labelPadding": 7}}
  },
  "layer": [
   {
    "encoding": {
     "y": {"field": "v", "type": "quantitative", "scale": {"domain": [19, 29], "nice": false, "zero": false},
       "axis": {"values": [19,20,21,22,23,24,25,26,27,28,29], "format": ".1f", "title": "観測井戸の水位／日最大·最小（センサー基準：m）", "titleColor": "#3a3aff", "labelColor": "#3535c8", "titleX": -67, "labelPadding": 13}},
     "color": {"field": "k", "type": "nominal", "scale": {"domain": ["水位min", "水位max", "揚水量"], "range": ["#1414d4", "#000000", "#f00a0a"]},
       "legend": {"title": null, "orient": "none", "legendX": 95, "legendY": 462, "symbolType": "stroke", "symbolSize": 1400, "symbolStrokeWidth": 5, "clipHeight": 16, "rowPadding": 6, "labelOffset": 25, "padding": 0,
         "encode": {"symbols": {"update": {"strokeWidth": {"signal": "datum.value === '水位max' ? 1.2 : 5"}}}}}}
    },
    "layer": [
     {
      "data": {"name": "mx"},
      "transform": [{"fold": ["水位max"], "as": ["k", "v"]}],
      "mark": {"type": "line", "strokeWidth": 1.2, "invalid": "break-paths-filter-domains"}
     },
     {
      "data": {"name": "mn"},
      "transform": [{"fold": ["水位min"], "as": ["k", "v"]}],
      "mark": {"type": "line", "strokeWidth": 5, "invalid": "break-paths-filter-domains"}
     }
    ]
   },
   {
    "data": {"name": "pm"},
    "transform": [{"fold": ["揚水量"], "as": ["k", "v"]}],
    "mark": {"type": "area", "stroke": "#f00a0a", "strokeWidth": 1.5, "opacity": 1, "interpolate": "step-after", "invalid": "break-paths-filter-domains"},
    "encoding": {
     "y": {"field": "v", "type": "quantitative", "scale": {"domain": [0, 500], "nice": false},
       "axis": {"orient": "right", "grid": false, "values": [0,50,100,150,200,250,300,350,400,450,500], "title": "地下水揚水量：日合計（m³）", "titleColor": "#ff2d2d", "labelColor": "#e8455a", "titleAngle": 270, "titleX": 63, "labelPadding": 12}},
     "y2": {"field": "lo"},
     "color": {"field": "k", "type": "nominal", "legend": null}
    }
   }
  ],
  "resolve": {"scale": {"y": "independent"}}
 }
]
}
